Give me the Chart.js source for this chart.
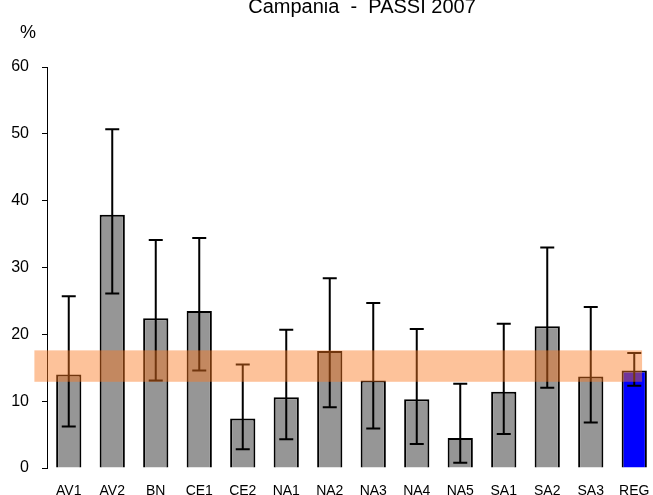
<!DOCTYPE html>
<html>
<head>
<meta charset="utf-8">
<script src="https://cdn.jsdelivr.net/npm/chart.js@4.4.0/dist/chart.umd.min.js"></script>
<style>
  body { margin: 0; overflow: hidden; background: #fff; }
  #wrap { width: 656px; height: 495px; position: relative; }
</style>
</head>
<body>
<div id="wrap"><canvas id="passi-chart"></canvas></div>
<script>
// ASL categories and prevalence (%) with 95% CI
const labels = ['AV1', 'AV2', 'BN', 'CE1', 'CE2', 'NA1', 'NA2', 'NA3', 'NA4', 'NA5', 'SA1', 'SA2', 'SA3', 'REG'];
const values = [14.0, 37.9, 22.4, 23.5, 7.4, 10.6, 17.5, 13.1, 10.3, 4.5, 11.4, 21.2, 13.7, 14.6];
const ciLow  = [6.2, 26.1, 13.1, 14.6, 2.8, 4.3, 9.1, 5.9, 3.6, 0.8, 5.1, 12.0, 6.8, 12.3];
const ciHigh = [25.7, 50.7, 34.1, 34.4, 15.5, 20.7, 28.4, 24.7, 20.8, 12.6, 21.6, 33.0, 24.1, 17.2];
// regional confidence band
const regBand = [12.9, 17.6];
const yTicks = [0, 10, 20, 30, 40, 50, 60];

const FONT = '"Liberation Sans", Arial, sans-serif';

// error bars + regional band, drawn over the bars
const extras = {
    id: 'extras',
    afterDatasetsDraw(chart) {
        const ctx = chart.ctx;
        const x = chart.scales.x, y = chart.scales.y;
        const bars = chart.getDatasetMeta(0).data;

        ctx.save();
        ctx.strokeStyle = '#000';
        ctx.lineWidth = 2;
        bars.forEach((bar, i) => {
            const yl = y.getPixelForValue(ciLow[i]);
            const yh = y.getPixelForValue(ciHigh[i]);
            ctx.beginPath();
            ctx.moveTo(bar.x, yl);
            ctx.lineTo(bar.x, yh);
            ctx.moveTo(bar.x - 7, yl);
            ctx.lineTo(bar.x + 7, yl);
            ctx.moveTo(bar.x - 7, yh);
            ctx.lineTo(bar.x + 7, yh);
            ctx.stroke();
        });

        const left = x.getPixelForValue(-0.79);
        const right = x.getPixelForValue(13.18);
        const top = y.getPixelForValue(regBand[1]);
        const bottom = y.getPixelForValue(regBand[0]);
        ctx.fillStyle = 'rgba(250, 120, 30, 0.45)';
        ctx.fillRect(left, top, right - left, bottom - top);
        ctx.restore();
    },
    afterDraw(chart) {
        const ctx = chart.ctx;
        ctx.save();
        ctx.fillStyle = '#000';
        ctx.textAlign = 'center';
        ctx.textBaseline = 'alphabetic';
        ctx.font = '20px ' + FONT;
        ctx.fillText('Campania  -  PASSI 2007', 362, 12.5);
        ctx.font = '18px ' + FONT;
        ctx.fillText('%', 28, 38);
        ctx.restore();
    }
};

new Chart(document.getElementById('passi-chart'), {
    type: 'bar',
    data: {
        labels: labels,
        datasets: [{
            data: values,
            backgroundColor: labels.map(l => l === 'REG' ? '#0000ff' : '#969696'),
            borderColor: '#000',
            borderWidth: 2,
            barPercentage: 0.58,
            categoryPercentage: 1.0
        }]
    },
    options: {
        responsive: true,
        maintainAspectRatio: false,
        animation: false,
        layout: { padding: { top: 67, left: 0, right: 0, bottom: 0 } },
        plugins: {
            legend: { display: false },
            tooltip: { enabled: false }
        },
        scales: {
            x: {
                grid: { display: false },
                border: { display: false },
                ticks: {
                    color: '#000',
                    font: { family: FONT, size: 14 },
                    padding: 7,
                    maxRotation: 0
                },
                afterFit(scale) {
                    scale.height = 27;
                    scale.paddingLeft = 0;
                    scale.paddingRight = 0;
                }
            },
            y: {
                min: 0,
                max: 60,
                afterBuildTicks(scale) { scale.ticks = yTicks.map(v => ({ value: v })); },
                grid: { drawOnChartArea: false, tickLength: 5, color: '#000', tickWidth: 1 },
                border: { display: true, color: '#000', width: 1 },
                ticks: {
                    color: '#000',
                    font: { family: FONT, size: 16 },
                    padding: 13
                },
                afterFit(scale) { scale.width = 47; }
            }
        }
    },
    plugins: [extras]
});
</script>
</body>
</html>
